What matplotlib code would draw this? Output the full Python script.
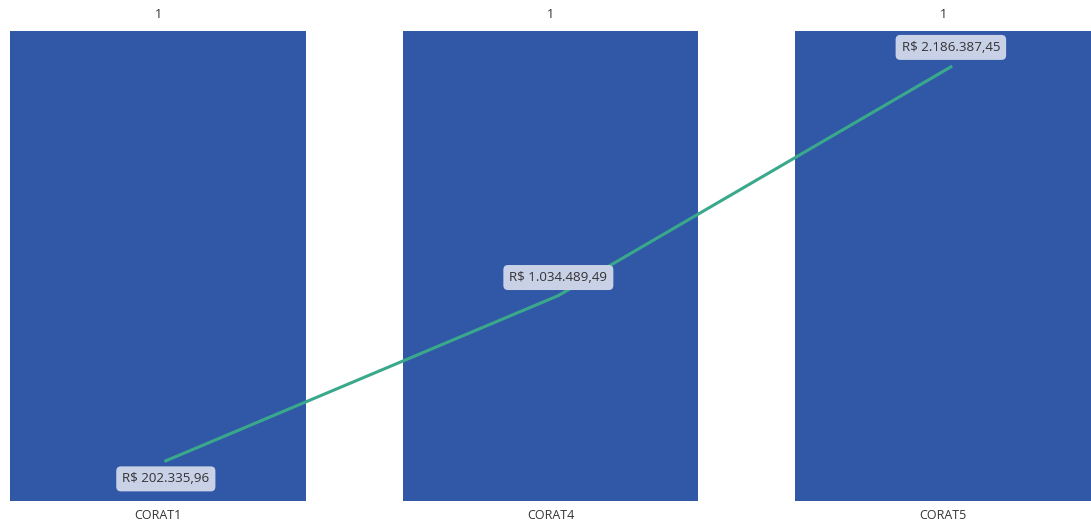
import matplotlib.pyplot as plt

categories = ['CORAT1', 'CORAT4', 'CORAT5']
counts = [1, 1, 1]
valores = [202335.96, 1034489.49, 2186387.45]


def brl(v):
    s = f'{v:,.2f}'.replace(',', 'X').replace('.', ',').replace('X', '.')
    return 'R$ ' + s


plt.rcParams['font.family'] = ['Open Sans', 'DejaVu Sans']

fig = plt.figure(figsize=(10.91, 5.27), dpi=100)
ax = fig.add_axes([10 / 1091, 26 / 527, 1081 / 1091, 470 / 527])
x = range(len(categories))
ax.bar(x, counts, width=0.754, color='#3158A7')
ax.set_xlim(-0.377, 2.377)
ax.set_ylim(0, 1)
for i, c in zip(x, counts):
    ax.annotate(str(c), (i, c), xytext=(0, 7.5), textcoords='offset points',
                ha='center', va='bottom', fontsize=9, color='#333333')
ax.set_xticks(list(x))
ax.set_xticklabels(categories, fontsize=9, color='#333333')
ax.tick_params(axis='x', length=0, pad=6)
ax.set_yticks([])
for s in ax.spines.values():
    s.set_visible(False)

ax2 = ax.twinx()
lx = [i + 0.02 for i in x]
ax2.plot(lx, valores, color='#3AA98B', linewidth=2.2)
ax2.set_ylim(0, 2367000)
ax2.set_yticks([])
for s in ax2.spines.values():
    s.set_visible(False)
offsets = [-13, 13, 14]
for xi, v, off in zip(lx, valores, offsets):
    ax2.annotate(brl(v), (xi, v), xytext=(0, off), textcoords='offset points',
                 ha='center', va='center', fontsize=9.6, color='#333333',
                 bbox=dict(boxstyle='round,pad=0.45,rounding_size=0.35',
                           fc='#C9D1E7', ec='none'))

fig.savefig('out.png', dpi=100)
